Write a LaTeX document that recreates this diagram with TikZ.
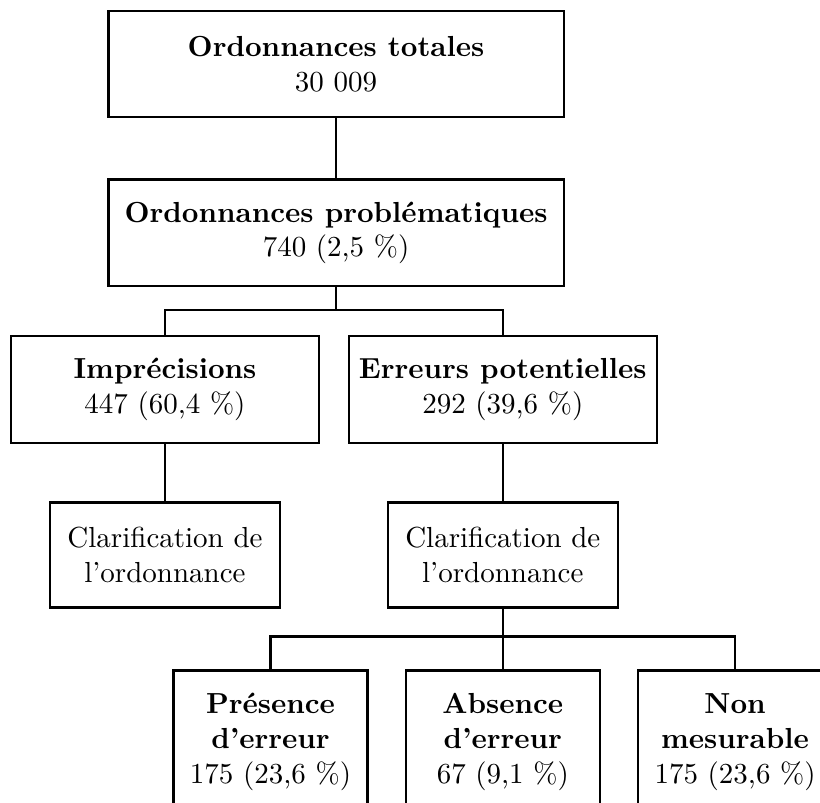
\documentclass[tikz,border=0pt]{standalone}
\usetikzlibrary{positioning}

\begin{document}
\begin{tikzpicture}[
        x=1pt, y=-1pt, thick
    ]

    \tikzstyle{block}     = [rectangle,draw,align=center]
    \tikzstyle{blockwide} = [block,minimum width=157pt,minimum height=36.7pt]
    \tikzstyle{blockmid}  = [block,minimum width=106.2pt,minimum height=36.9pt]
    \tikzstyle{blockclar} = [block,minimum width=79.3pt,minimum height=36.2pt]
    \tikzstyle{blockleaf} = [block,minimum width=66.9pt,minimum height=49.3pt]

    \path[use as bounding box,clip] (0,0) rectangle (282.8,276.9);

    \node[blockwide] (total) at (115.9,22.1) {\textbf{Ordonnances totales}\\30~009};
    \node[blockwide] (probl) [below=20.7pt of total] {\textbf{Ordonnances problématiques}\\740 (2,5~\%)};

    \node[blockmid] (impr) at (56.9,134.3) {\textbf{Imprécisions}\\447 (60,4~\%)};
    \node[blockmid] (err)  [right=9.5pt of impr] {\textbf{Erreurs potentielles}\\292 (39,6~\%)};

    \node[blockclar] (clarimpr) [below=19.7pt of impr] {Clarification de\\l'ordonnance};
    \node[blockclar] (clarerr)  [below=19.7pt of err]  {Clarification de\\l'ordonnance};

    \node[blockleaf] (absence)  [below=21pt of clarerr]  {\textbf{Absence}\\\textbf{d'erreur}\\67 (9,1~\%)};
    \node[blockleaf] (presence) [left=12.4pt of absence]  {\textbf{Présence}\\\textbf{d'erreur}\\175 (23,6~\%)};
    \node[blockleaf] (nonmes)   [right=12.4pt of absence] {\textbf{Non}\\\textbf{mesurable}\\175 (23,6~\%)};

    \draw (total) -- (probl);
    \draw (probl.south) -- ++(0,7.9) coordinate (forkprobl);
    \draw (forkprobl) -| (impr.north);
    \draw (forkprobl) -| (err.north);

    \draw (impr) -- (clarimpr);
    \draw (err) -- (clarerr);

    \draw (clarerr.south) -- ++(0,9.7) coordinate (forkclar);
    \draw (forkclar) -| (presence.north);
    \draw (forkclar) -| (absence.north);
    \draw (forkclar) -| (nonmes.north);

\end{tikzpicture}
\end{document}
